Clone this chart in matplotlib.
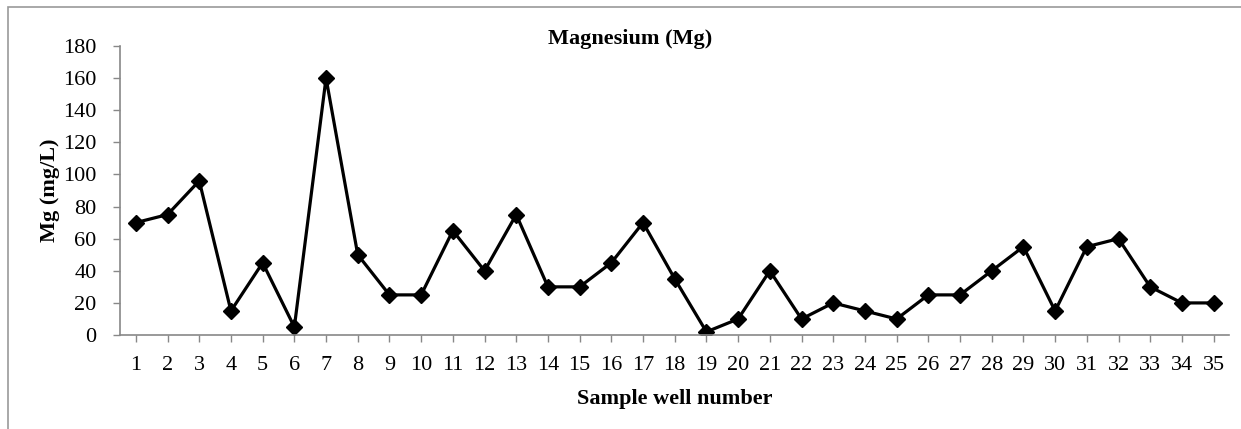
import matplotlib.pyplot as plt
from matplotlib.patches import Rectangle

wells = list(range(1, 36))
mg = [70, 75, 96, 15, 45, 5, 160, 50, 25, 25, 65, 40, 75, 30, 30, 45, 70, 35, 2, 10,
      40, 10, 20, 15, 10, 25, 25, 40, 55, 15, 55, 60, 30, 20, 20]
yticks = list(range(0, 181, 20))

plt.rcParams['font.family'] = ['Liberation Serif', 'DejaVu Serif']

fig = plt.figure(figsize=(12.41, 4.29), dpi=100)
ax = fig.add_axes([0.0967, 0.219, 0.894, 0.674])

ax.plot(wells, mg, color='black', lw=2.3, marker='D', ms=8, mfc='black', mec='black')

ax.set_xlim(0.5, 35.5)
ax.set_ylim(0, 180)
ax.set_xticks(wells)
ax.set_yticks(yticks)
ax.tick_params(axis='both', labelsize=16, colors='#888888', labelcolor='black', length=5, width=1)
ax.tick_params(axis='x', pad=10)
ax.tick_params(axis='y', pad=12)
for s in ['top', 'right']:
    ax.spines[s].set_visible(False)
for s in ['left', 'bottom']:
    ax.spines[s].set_color('#888888')
    ax.spines[s].set_linewidth(1.2)

ax.set_xlabel('Sample well number', fontsize=16, fontweight='bold', labelpad=10)
ax.set_ylabel('Mg (mg/L)', fontsize=16, fontweight='bold', labelpad=2)
fig.text(0.508, 0.91, 'Magnesium (Mg)', ha='center', va='center', fontsize=16, fontweight='bold')

fig.patches.append(Rectangle((0.0065, -0.01), 1.0, 0.993, transform=fig.transFigure,
                             fill=False, edgecolor='#999999', lw=1.2))

fig.savefig('out.png', dpi=100)
